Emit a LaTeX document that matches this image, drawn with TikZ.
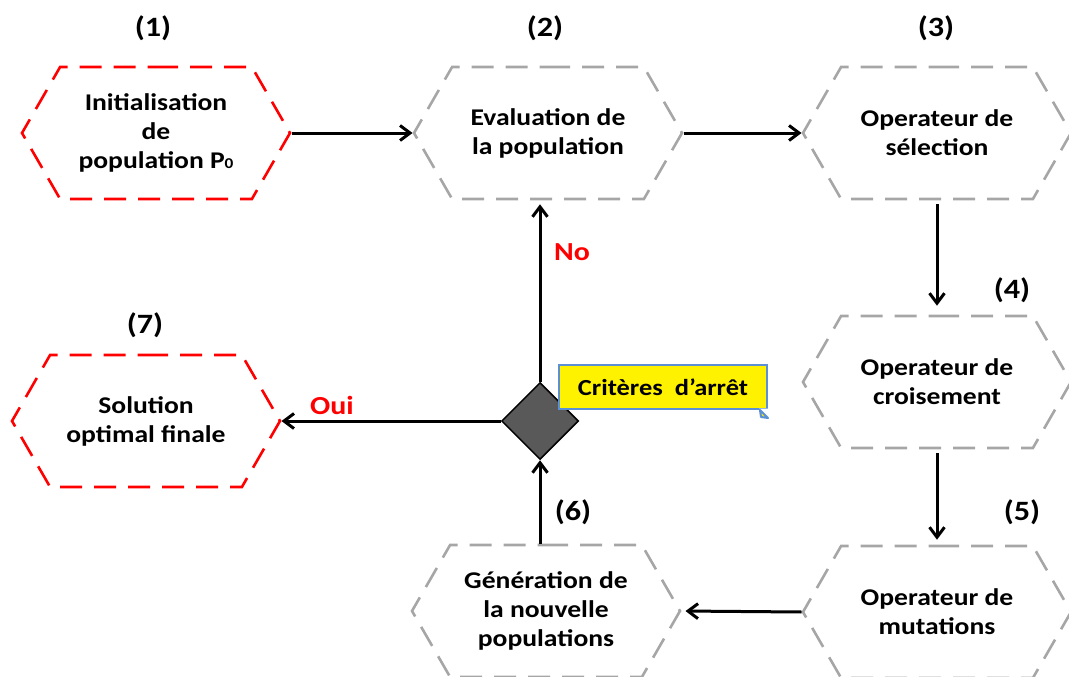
\documentclass[tikz,border=0pt]{standalone}
\usepackage{fontspec}
\setmainfont{Carlito}[FakeStretch=1.15]
\usetikzlibrary{shapes.symbols,shapes.geometric,arrows.meta}
\definecolor{hexgray}{HTML}{A6A6A6}
\definecolor{diagray}{HTML}{595959}
\definecolor{notebl}{HTML}{5B8FD6}
\begin{document}
\begin{tikzpicture}[x=1pt,y=-1pt,
  hexbox/.style={signal, signal to=east and west, signal pointer angle=120,
    minimum width=268pt, minimum height=132pt, inner sep=0pt, line width=2.6pt,
    dash pattern=on 22pt off 12pt, align=center,
    font=\fontsize{24}{29}\selectfont\bfseries},
  grayhex/.style={hexbox, draw=hexgray},
  redhex/.style={hexbox, draw=red},
  flow/.style={line width=3pt, -{Straight Barb[length=10pt,width=15pt]}},
  steplabel/.style={font=\fontsize{28}{28}\selectfont\bfseries},
  answer/.style={text=red, font=\fontsize{26}{26}\selectfont\bfseries}]
\useasboundingbox (0,0) rectangle (1069,677);

% process steps
\node[redhex]  (h1) at (156,133) {Initialisation\\de\\population P{\fontsize{15}{15}\selectfont 0}};
\node[grayhex] (h2) at (548,133) {Evaluation de\\la population};
\node[grayhex] (h3) at (937,133) {Operateur de\\sélection};
\node[grayhex] (h4) at (937,382) {Operateur de\\croisement};
\node[grayhex] (h5) at (937,612) {Operateur de\\mutations};
\node[grayhex] (h6) at (546,611) {Génération de\\la nouvelle\\populations};
\node[redhex]  (h7) at (146,421) {Solution\\optimal finale};

% decision
\node[diamond, minimum width=77pt, minimum height=77pt, inner sep=0pt,
  fill=diagray, draw=black, line width=1.5pt] (dia) at (540,421) {};

% note with folded corner
\node[rectangle, minimum width=208pt, minimum height=44pt, inner sep=0pt,
  fill=yellow, draw=notebl, line width=2pt,
  font=\fontsize{23}{23}\selectfont\bfseries] (note) at (663,387) {Critères\ \ d’arrêt};
\fill[white] ([xshift=1.5pt,yshift=-9pt]note.south east) -- ([xshift=-9pt,yshift=1.5pt]note.south east)
  -- ([xshift=1.5pt,yshift=1.5pt]note.south east) -- cycle;
\draw[notebl, line width=2pt, line join=round, fill=yellow!70!black!30!yellow]
  ([yshift=-8pt]note.south east) -- ([xshift=-8pt]note.south east)
  -- ([xshift=-7pt,yshift=-7pt]note.south east) -- cycle;

% step numbers
\node[steplabel] (n1) at (153,28) {(1)};
\node[steplabel] (n2) at (545,28) {(2)};
\node[steplabel] (n3) at (936,28) {(3)};
\node[steplabel] (n4) at (1012,290) {(4)};
\node[steplabel] (n5) at (1022,512) {(5)};
\node[steplabel] (n6) at (573,512) {(6)};
\node[steplabel] (n7) at (145,325) {(7)};

% connectors
\draw[flow] (h1.east) -- (h2.west);
\draw[flow] (h2.east) -- (h3.west);
\draw[flow, shorten <=4pt, shorten >=9pt] (h3.south) -- (h4.north);
\draw[flow, shorten <=4pt, shorten >=5pt] (h4.south) -- (h5.north);
\draw[flow, shorten >=4pt] (h5.west) -- (h6.east);
\draw[flow] (h6.north -| dia.south) -- (dia.south);
\draw[flow, shorten >=4pt] (dia.north) -- (dia.north |- h2.south);
\draw[flow] (dia.west) -- (dia.west -| h7.east);

% answers
\node[answer] (no)  at (572,252) {No};
\node[answer] (oui) at (332,405) {Oui};
\end{tikzpicture}
\end{document}
